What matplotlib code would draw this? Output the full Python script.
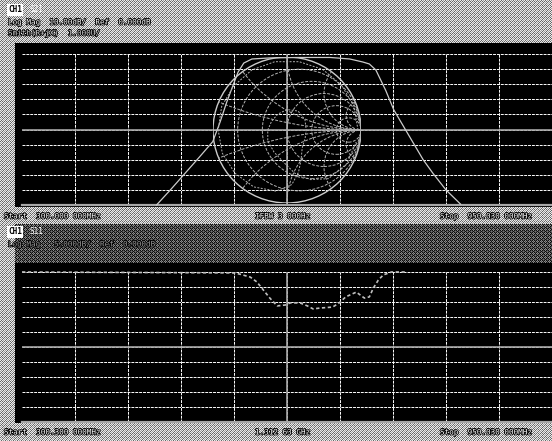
import numpy as np
import matplotlib.pyplot as plt
import matplotlib.patheffects as pe
from matplotlib.patches import Circle

W, H = 552, 441

f_start = 300.0
f_stop = 950.03

# CH1 upper trace: S21 log mag (MHz, dB), 10 dB/div, ref 0 dB at top
s21_freq = [465, 482, 500, 518, 534, 543, 551, 559, 565, 572, 582, 604, 641,
            678, 702, 718, 726, 734, 746, 756, 768, 780, 792, 804, 820, 838]
s21_db = [-100, -90, -79, -68, -58, -45, -32, -20.5, -12, -6, -3.3, -2.6, -2.3,
          -2.3, -3.3, -5.3, -6.6, -10.6, -24, -37, -48, -59, -70, -79, -90, -99.5]

# CH1 lower trace: S11 log mag (MHz, dB), 5 dB/div
s11_freq = [300, 559, 567, 580, 588, 596, 604, 613, 623, 629, 641, 650, 657,
            666, 681, 689, 697, 710, 720, 726, 731, 737, 743, 753, 771]
s11_db = [0, -0.3, -0.7, -1.7, -3.3, -6, -8.7, -11.3, -11, -10.3, -10.3, -11.3, -12.3,
          -12, -11.7, -10.3, -8.3, -6.7, -8.7, -8.3, -5.3, -2.7, -1, 0, 0]

# S11 on the Smith chart, |gamma| and angle in degrees
gamma_mag = [0.96, 0.96, 0.96, 0.96, 0.95, 0.95, 0.95, 0.94, 0.94, 0.93, 0.93, 0.92,
             0.90, 0.85, 0.75, 0.60, 0.45, 0.32, 0.27, 0.26, 0.28, 0.30, 0.28, 0.25,
             0.24, 0.26, 0.30, 0.35, 0.45, 0.60, 0.75, 0.87, 0.93, 0.95]
gamma_ang = [0, 20, 40, 60, 80, 100, 120, 140, 160, 180, 200, 220,
             240, 260, 275, 285, 295, 310, 335, 360, 390, 420, 450, 480,
             510, 540, 570, 600, 625, 640, 655, 670, 690, 710]

smith_r = [0.2, 0.5, 1.0, 2.0, 5.0]
smith_x = [0.2, 0.5, 1.0, 2.0, 5.0]

fig = plt.figure(figsize=(W / 100, H / 100), dpi=100, facecolor='black')

# dithered screen bars
light_tile = np.array([[0.92, 0.40, 0.92, 0.62],
                       [0.40, 0.92, 0.40, 0.92],
                       [0.92, 0.62, 0.92, 0.40],
                       [0.62, 0.92, 0.40, 0.92]])
dark_tile = np.array([[0.05, 0.55, 0.05, 0.30],
                      [0.55, 0.30, 0.55, 0.05],
                      [0.05, 0.55, 0.05, 0.30],
                      [0.30, 0.05, 0.30, 0.45]])
light = np.tile(light_tile, (H // 4 + 1, W // 4 + 1))[:H, :W]
dark = np.tile(dark_tile, (H // 4 + 1, W // 4 + 1))[:H, :W]

screen = np.zeros((H, W))
screen[0:43, :] = light[0:43, :]
screen[:, 0:15] = light[:, 0:15]
screen[207:224, :] = light[207:224, :]
screen[224:263, 15:] = dark[224:263, 15:]
screen[423:, :] = light[423:, :]

bg = fig.add_axes([0, 0, 1, 1])
bg.imshow(screen, cmap='gray', vmin=0, vmax=1, interpolation='nearest',
          extent=(0, W, H, 0))
bg.set_xlim(0, W)
bg.set_ylim(H, 0)
bg.axis('off')

stroke = [pe.withStroke(linewidth=1.2, foreground='black')]
mono = dict(family='DejaVu Sans Mono', fontsize=5.5, va='center')


def label(x, y, s, color='white'):
    bg.text(x, y, s, color=color, path_effects=stroke, **mono)


def channel(x, y, name):
    bg.text(x, y, 'CH1', color='black', fontweight='bold',
            bbox=dict(boxstyle='square,pad=0.15', fc='white', ec='none'), **mono)
    bg.text(x + 21, y, name, color='white', **mono)


channel(8, 10, 'S21')
label(8, 22, 'Log Mag  10.00dB/  Ref  0.000dB')
label(8, 33, 'Smith(R+jX)  1.000U/', color='0.85')
label(4, 216, 'Start  300.000 000MHz')
label(255, 216, 'IFBW 3 000Hz')
label(440, 216, 'Stop  950.030 000MHz')

channel(8, 232, 'S11')
label(8, 244, 'Log Mag   5.000dB/  Ref  0.000dB', color='0.6')
label(4, 432, 'Start  300.300 000MHz')
label(255, 432, '1.312 63 GHz')
label(440, 432, 'Stop  950.030 000MHz')


def panel(top, bottom, ymin, ymax):
    ax = fig.add_axes([22 / W, 1 - bottom / H, 530 / W, (bottom - top) / H])
    ax.set_facecolor('none')
    ax.set_xlim(f_start, f_stop)
    ax.set_ylim(ymin, ymax)
    ax.set_xticks(np.linspace(f_start, f_stop, 11)[1:-1])
    ax.set_yticks(np.linspace(ymin, ymax, 11)[1:])
    ax.tick_params(length=0, labelbottom=False, labelleft=False)
    ax.grid(True, color='white', lw=0.7, ls=(0, (3, 1)))
    for s in ax.spines.values():
        s.set_visible(False)
    ax.axvline((f_start + f_stop) / 2, color='0.65', lw=1.2)
    ax.axhline((ymin + ymax) / 2, color='0.65', lw=1.2)
    ax.axhline(ymin, color='0.65', lw=1.6, clip_on=False)
    return ax


ax1 = panel(54, 205, -100, 0)
ax1.plot(s21_freq, s21_db, color='0.8', lw=0.9, clip_on=False)

ax2 = panel(272, 422, -50, 0)
ax2.plot(s11_freq, s11_db, color='0.75', lw=1.2, ls=(0, (2, 1.5)), clip_on=False)

# Smith chart overlay on the upper panel
sm = fig.add_axes([(287 - 74) / W, 1 - (130 + 73) / H, 148 / W, 146 / H])
sm.set_facecolor('none')
sm.set_xlim(-1, 1)
sm.set_ylim(-1, 1)
sm.axis('off')

edge = Circle((0, 0), 1, fill=False, ec='0.8', lw=1.0)
sm.add_patch(edge)
for r in smith_r:
    sm.add_patch(Circle((r / (1 + r), 0), 1 / (1 + r), fill=False,
                        ec='0.7', lw=0.7, ls=(0, (3, 1.5))))
for x in smith_x:
    for sign in (1, -1):
        arc = Circle((1, sign / x), 1 / x, fill=False, ec='0.7', lw=0.7, ls=(0, (3, 1.5)))
        sm.add_patch(arc)
        arc.set_clip_path(edge)

ang = np.deg2rad(gamma_ang)
sm.plot(np.array(gamma_mag) * np.cos(ang), np.array(gamma_mag) * np.sin(ang),
        color='0.7', lw=0.7, ls=(0, (2, 1.5)))

fig.savefig('out.png', dpi=100, facecolor='black')
